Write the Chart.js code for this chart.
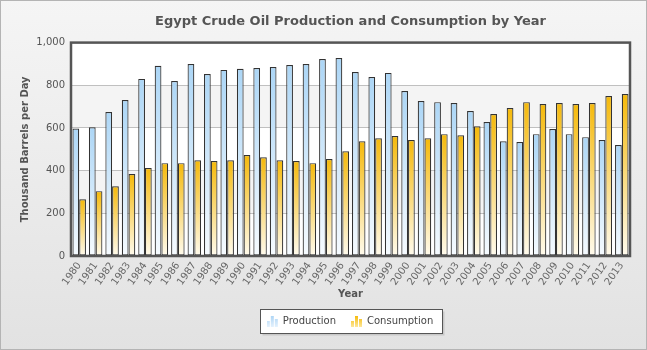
<!DOCTYPE html>
<html>
<head>
<meta charset="utf-8">
<script src="https://cdn.jsdelivr.net/npm/chart.js@4/dist/chart.umd.min.js"></script>
<style>
    html, body { margin: 0; padding: 0; background: #fff; }
    #wrap { width: 647px; height: 350px; position: relative; }
</style>
</head>
<body>
<div id="wrap"><canvas id="oilChart" width="647" height="350"></canvas></div>
<script>
const years = ["1980", "1981", "1982", "1983", "1984", "1985", "1986", "1987", "1988", "1989",
    "1990", "1991", "1992", "1993", "1994", "1995", "1996", "1997", "1998", "1999",
    "2000", "2001", "2002", "2003", "2004", "2005", "2006", "2007", "2008", "2009",
    "2010", "2011", "2012", "2013"];

const production = [597, 603, 675, 731, 830, 891, 820, 900, 853, 872,
    877, 881, 886, 895, 900, 923, 928, 862, 839, 858,
    773, 726, 721, 717, 679, 628, 538, 534, 571, 595,
    571, 557, 543, 520];

const consumption = [266, 304, 327, 384, 412, 435, 435, 449, 445, 449,
    473, 463, 449, 445, 435, 454, 491, 538, 552, 562,
    543, 552, 571, 566, 608, 665, 693, 721, 712, 717,
    712, 717, 750, 759];

const yTicks = [0, 200, 400, 600, 800, 1000];

const FONT = "'DejaVu Sans', Verdana, sans-serif";

// per-bar vertical gradient, strong at the top of each bar
function barGradient(topColor, bottomColor) {
    return (context) => {
        const chart = context.chart;
        const area = chart.chartArea;
        if (!area || context.parsed == null) {
            return topColor;
        }
        const y = chart.scales.y.getPixelForValue(context.parsed.y);
        const g = chart.ctx.createLinearGradient(0, y, 0, area.bottom);
        g.addColorStop(0, topColor);
        g.addColorStop(1, bottomColor);
        return g;
    };
}

// small bar-chart icon for the legend
function legendIcon(top, bottom) {
    const c = document.createElement('canvas');
    c.width = 12;
    c.height = 12;
    const ctx = c.getContext('2d');
    const g = ctx.createLinearGradient(0, 0, 0, 12);
    g.addColorStop(0, top);
    g.addColorStop(1, bottom);
    ctx.fillStyle = g;
    ctx.fillRect(0, 6, 3, 6);
    ctx.fillRect(4, 1, 3, 11);
    ctx.fillRect(8, 4, 3, 8);
    return c;
}

const prodIcon = legendIcon('#a9d3f5', '#e4f1fd');
const consIcon = legendIcon('#f5b700', '#fde79a');

const backdrop = {
    id: 'backdrop',
    afterLayout(chart) {
        // title and legend are centred over the plot, not the canvas
        // (legend hit boxes get re-adjusted by the legend plugin in afterUpdate)
        const a = chart.chartArea;
        if (chart.titleBlock) {
            chart.titleBlock.left = a.left;
            chart.titleBlock.right = a.right;
        }
        if (chart.legend) {
            chart.legend.left = a.left;
            chart.legend.right = a.right;
        }
    },
    beforeDraw(chart) {
        const ctx = chart.ctx;
        const w = chart.width, h = chart.height;
        ctx.save();
        const bg = ctx.createLinearGradient(0, 0, 0, h);
        bg.addColorStop(0, '#f5f5f5');
        bg.addColorStop(1, '#e2e2e2');
        ctx.fillStyle = bg;
        ctx.fillRect(0, 0, w, h);
        ctx.strokeStyle = '#b4b4b4';
        ctx.lineWidth = 1;
        ctx.strokeRect(0.5, 0.5, w - 1, h - 1);

        // plot background with alternating bands
        const a = chart.chartArea;
        const ys = chart.scales.y;
        ctx.fillStyle = '#ffffff';
        ctx.fillRect(a.left, a.top, a.right - a.left, a.bottom - a.top);
        ctx.fillStyle = '#f4f4f4';
        [[200, 400], [600, 800]].forEach(([lo, hi]) => {
            const y1 = ys.getPixelForValue(hi);
            const y2 = ys.getPixelForValue(lo);
            ctx.fillRect(a.left, y1, a.right - a.left, y2 - y1);
        });

        // legend frame
        const boxes = chart.legend && chart.legend.legendHitBoxes;
        if (boxes && boxes.length) {
            const first = boxes[0];
            const last = boxes[boxes.length - 1];
            const x1 = Math.round(first.left - 8) + 0.5;
            const x2 = Math.round(last.left + last.width + 9) + 0.5;
            const y1 = Math.round(first.top - 7) + 0.5;
            const y2 = Math.round(first.top + first.height + 7) + 0.5;
            ctx.fillStyle = '#c8c8c8';
            ctx.fillRect(x1 + 2, y1 + 2, x2 - x1, y2 - y1);
            ctx.fillStyle = '#ffffff';
            ctx.fillRect(x1, y1, x2 - x1, y2 - y1);
            ctx.strokeStyle = '#555555';
            ctx.strokeRect(x1, y1, x2 - x1, y2 - y1);
        }
        ctx.restore();
    },
    afterDatasetsDraw(chart) {
        const ctx = chart.ctx;
        const a = chart.chartArea;
        ctx.save();
        ctx.strokeStyle = '#555555';
        ctx.lineWidth = 2.5;
        ctx.strokeRect(a.left, a.top, a.right - a.left, a.bottom - a.top);
        ctx.restore();
    }
};

new Chart(document.getElementById('oilChart'), {
    type: 'bar',
    data: {
        labels: years,
        datasets: [
            {
                label: 'Production',
                data: production,
                backgroundColor: barGradient('#acd6f6', '#f6fbff'),
                borderColor: '#333333',
                borderWidth: 1.2,
                borderSkipped: false,
                categoryPercentage: 0.82,
                barPercentage: 1.0
            },
            {
                label: 'Consumption',
                data: consumption,
                backgroundColor: barGradient('#f5b90a', '#fffbee'),
                borderColor: '#333333',
                borderWidth: 1.2,
                borderSkipped: false,
                categoryPercentage: 0.82,
                barPercentage: 1.0
            }
        ]
    },
    plugins: [backdrop],
    options: {
        responsive: false,
        animation: false,
        layout: {
            padding: { left: 19, right: 17, top: 0, bottom: 14 }
        },
        plugins: {
            title: {
                display: true,
                text: 'Egypt Crude Oil Production and Consumption by Year',
                color: '#555555',
                font: { family: FONT, size: 13, weight: 'bold' },
                padding: { top: 14, bottom: 13 }
            },
            legend: {
                position: 'bottom',
                labels: {
                    color: '#444444',
                    font: { family: FONT, size: 10 },
                    usePointStyle: true,
                    pointStyle: 'rect',
                    padding: 16,
                    generateLabels(chart) {
                        return chart.data.datasets.map((ds, i) => ({
                            text: ds.label,
                            pointStyle: i === 0 ? prodIcon : consIcon,
                            fillStyle: 'transparent',
                            strokeStyle: 'transparent',
                            lineWidth: 0,
                            datasetIndex: i,
                            fontColor: '#444444'
                        }));
                    }
                }
            },
            tooltip: { enabled: false }
        },
        scales: {
            x: {
                afterFit(scale) {
                    scale.height = 44;
                },
                grid: { display: false, drawTicks: false },
                border: { display: false },
                ticks: {
                    color: '#666666',
                    font: { family: FONT, size: 10 },
                    minRotation: 55,
                    maxRotation: 55,
                    autoSkip: false,
                    padding: 4
                },
                title: {
                    display: true,
                    text: 'Year',
                    color: '#555555',
                    font: { family: FONT, size: 10, weight: 'bold' },
                    padding: { top: 0, bottom: 0 }
                }
            },
            y: {
                min: 0,
                max: 1000,
                afterBuildTicks(scale) {
                    scale.ticks = yTicks.map(v => ({ value: v }));
                },
                afterFit(scale) {
                    scale.width = 52;
                },
                grid: { color: '#c0c0c0', lineWidth: 1, drawTicks: false },
                border: { display: false },
                ticks: {
                    color: '#555555',
                    font: { family: FONT, size: 10 },
                    padding: 6
                },
                title: {
                    display: true,
                    text: 'Thousand Barrels per Day',
                    color: '#555555',
                    font: { family: FONT, size: 10, weight: 'bold' },
                    padding: { top: 0, bottom: 0 }
                }
            }
        }
    }
});
</script>
</body>
</html>
